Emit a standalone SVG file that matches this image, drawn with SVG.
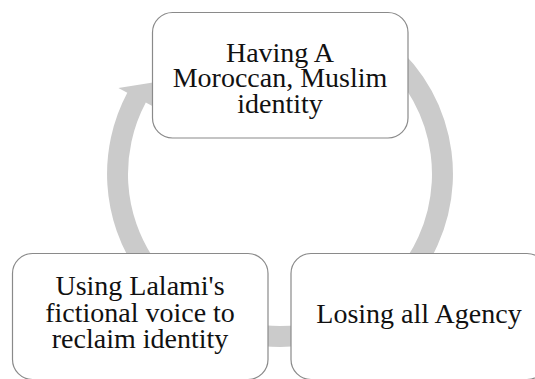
<svg xmlns="http://www.w3.org/2000/svg" width="535" height="379" viewBox="0 0 535 379">
<style>
.arrow{fill:#cbcbcb;stroke:none}
.box{fill:#ffffff;stroke:#8a8a8a;stroke-width:1.2}
.lbl{font-family:"Liberation Serif","Times New Roman",serif;font-size:28px;fill:#111;text-anchor:middle}
</style>
<rect width="535" height="379" fill="#ffffff"/>
<g id="connectors">
<path class="arrow" d="M 391.2 41.5 A 173 173 0 0 1 421.7 273.2 L 430.7 279.5 L 396.9 286.9 L 395.5 254.9 L 404.5 261.2 A 152 152 0 0 0 377.7 57.6 Z"/>
<path class="arrow" d="M 324.8 341.1 A 173 173 0 0 1 261.9 346.0 L 260.8 357.0 L 240.7 331.7 L 265.3 314.2 L 264.1 325.2 A 152 152 0 0 0 319.3 320.8 Z"/>
<path class="arrow" d="M 138.3 273.2 A 173 173 0 0 1 127.3 92.8 L 118.4 88.1 L 156 82 L 154.6 107.3 L 145.8 102.6 A 152 152 0 0 0 155.5 261.2 Z"/>
</g>
<g id="node-identity">
<rect class="box" x="152.5" y="12.5" width="255.5" height="125.5" rx="20" ry="20"/>
<text class="lbl" x="280" y="62">Having A</text>
<text class="lbl" x="280" y="87">Moroccan, Muslim</text>
<text class="lbl" x="280" y="113">identity</text>
</g>
<g id="node-agency">
<rect class="box" x="291" y="253.5" width="256" height="126" rx="20" ry="20"/>
<text class="lbl" x="419" y="323">Losing all Agency</text>
</g>
<g id="node-voice">
<rect class="box" x="12.5" y="253.5" width="255.5" height="126" rx="20" ry="20"/>
<text class="lbl" x="140" y="295">Using Lalami's</text>
<text class="lbl" x="140" y="322">fictional voice to</text>
<text class="lbl" x="140" y="348">reclaim identity</text>
</g>
</svg>
